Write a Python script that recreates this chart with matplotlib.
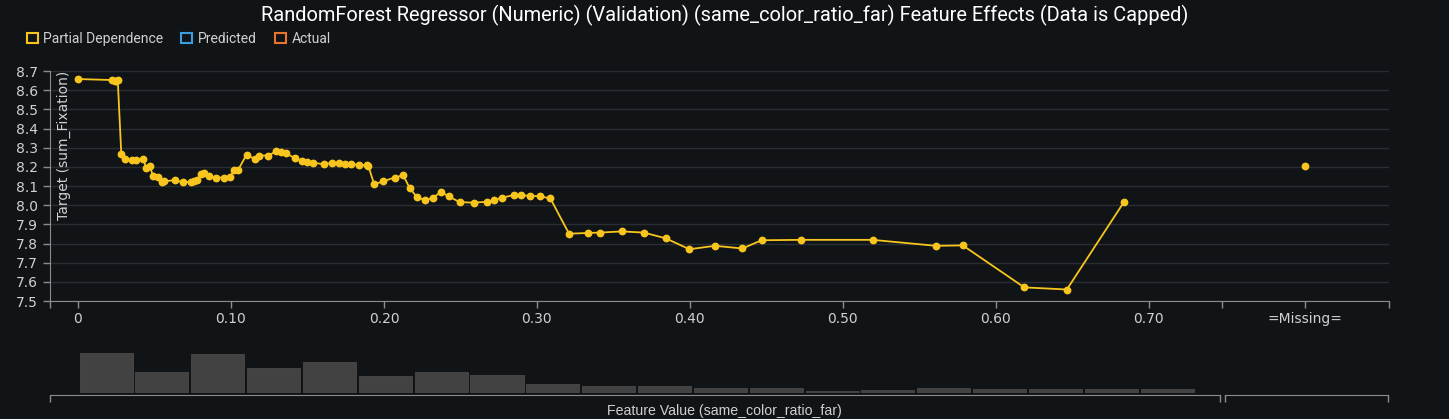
import matplotlib
matplotlib.use("Agg")
import matplotlib.pyplot as plt
from matplotlib.patches import Patch
from matplotlib import font_manager

# partial dependence curve (feature value, target)
pd_x = [0, 0.022, 0.024, 0.025, 0.026, 0.0283, 0.0306, 0.035, 0.0376, 0.0426,
        0.0446, 0.0468, 0.0493, 0.052, 0.055, 0.0563, 0.0634, 0.0684, 0.0739, 0.0759,
        0.0779, 0.0801, 0.0826, 0.0859, 0.0902, 0.0952, 0.0992, 0.1022, 0.1047, 0.1102,
        0.1154, 0.1185, 0.1245, 0.1295, 0.1327, 0.1357, 0.142, 0.1465, 0.1498, 0.1535,
        0.1608, 0.166, 0.1703, 0.1748, 0.1786, 0.1836, 0.1886, 0.1898, 0.1936, 0.1994,
        0.2069, 0.2126, 0.2169, 0.2216, 0.2266, 0.2319, 0.2372, 0.2424, 0.2494, 0.2587,
        0.2675, 0.272, 0.2772, 0.285, 0.2895, 0.2955, 0.3023, 0.3088, 0.321, 0.3331,
        0.3414, 0.3554, 0.3699, 0.3842, 0.3997, 0.4163, 0.4343, 0.4469, 0.4724, 0.5195,
        0.5606, 0.5784, 0.6186, 0.6464, 0.6837]
pd_y = [8.658, 8.653, 8.648, 8.647, 8.651, 8.267, 8.241, 8.234, 8.234, 8.243,
        8.194, 8.203, 8.150, 8.149, 8.119, 8.124, 8.131, 8.119, 8.123, 8.126,
        8.130, 8.163, 8.168, 8.150, 8.144, 8.144, 8.145, 8.185, 8.184, 8.264,
        8.241, 8.259, 8.259, 8.281, 8.280, 8.271, 8.245, 8.231, 8.227, 8.222,
        8.213, 8.222, 8.219, 8.213, 8.215, 8.210, 8.208, 8.205, 8.109, 8.124,
        8.144, 8.156, 8.088, 8.042, 8.027, 8.037, 8.069, 8.046, 8.016, 8.013,
        8.018, 8.027, 8.039, 8.053, 8.051, 8.049, 8.046, 8.035, 7.851, 7.855,
        7.857, 7.863, 7.857, 7.827, 7.770, 7.788, 7.774, 7.817, 7.819, 7.819,
        7.788, 7.790, 7.571, 7.560, 8.016]
missing_y = 8.205

# histogram of feature values
hist_counts = [119, 61, 114, 74, 92, 50, 61, 53, 23, 17,
               17, 12, 12, 2, 7, 13, 10, 8, 8, 8]
bin_start = 0.001
bin_width = 0.0365

x_ticks = [0, 0.1, 0.2, 0.3, 0.4, 0.5, 0.6, 0.7]
x_labels = ["0", "0.10", "0.20", "0.30", "0.40", "0.50", "0.60", "0.70"]
y_ticks = [7.5, 7.6, 7.7, 7.8, 7.9, 8.0, 8.1, 8.2, 8.3, 8.4, 8.5, 8.6, 8.7]

BG = "#111417"
GRID = "#2a2d31"
AXIS = "#8c8c8c"
TXT = "#d0d0d0"
YELLOW = "#f7c51e"

# x layout: numeric part, separator, missing slot
x_left, x_sep, x_missing, x_right = -0.0183, 0.7477, 0.802, 0.857

W, H = 1449, 419
fig = plt.figure(figsize=(W / 100, H / 100), dpi=100, facecolor=BG)

ax = fig.add_axes([50 / W, 1 - 301 / H, (1389 - 50) / W, (301 - 71) / H])
ax.set_facecolor(BG)
ax.plot(pd_x, pd_y, color=YELLOW, lw=1.3, marker="o", ms=4.6, zorder=3)
ax.plot([x_missing], [missing_y], color=YELLOW, marker="o", ms=4.6, ls="none", zorder=3)
ax.set_xlim(x_left, x_right)
ax.set_ylim(7.5, 8.7)
ax.set_yticks(y_ticks)
ax.set_yticklabels([f"{v:.1f}" for v in y_ticks])
ax.set_xticks([x_left] + x_ticks + [x_sep, x_missing, x_right])
ax.set_xticklabels([""] + x_labels + ["", "=Missing=", ""])
ax.grid(axis="y", color=GRID, lw=1)
ax.set_axisbelow(True)
for s in ["top", "right"]:
    ax.spines[s].set_visible(False)
for s in ["left", "bottom"]:
    ax.spines[s].set_color(AXIS)
ax.tick_params(colors=AXIS, labelcolor=TXT, labelsize=10, length=5, width=1)
ax.tick_params(axis="x", pad=3)
ax.text(0.0105, 1.0, "Target (sum_Fixation)", transform=ax.transAxes, rotation=90,
        ha="center", va="top", color=TXT, fontsize=10)

# histogram, numeric part
hx = fig.add_axes([50 / W, 1 - 395 / H, (1220 - 50) / W, 55 / H])
hx.set_facecolor(BG)
lefts = [bin_start + i * bin_width for i in range(len(hist_counts))]
hx.bar(lefts, hist_counts, width=bin_width * 0.95, align="edge",
       color="#424242", edgecolor="#4a4a4a", lw=0.6)
hx.set_xlim(x_left, 0.7464)
hx.set_ylim(-9, 158)
hx.set_xticks([x_left, 0.7464])
hx.set_xticklabels([])
hx.set_yticks([])
for s in ["top", "right", "left"]:
    hx.spines[s].set_visible(False)
hx.spines["bottom"].set_color(AXIS)
hx.tick_params(colors=AXIS, length=5, width=1)

# histogram, missing part (empty)
mx = fig.add_axes([1225 / W, 1 - 395 / H, (1388 - 1225) / W, 55 / H])
mx.set_facecolor(BG)
mx.set_xlim(0, 1)
mx.set_xticks([0, 1])
mx.set_xticklabels([])
mx.set_yticks([])
for s in ["top", "right", "left"]:
    mx.spines[s].set_visible(False)
mx.spines["bottom"].set_color(AXIS)
mx.tick_params(colors=AXIS, length=5, width=1)

fig.text(0.5, 1 - 15 / H, "RandomForest Regressor (Numeric) (Validation) (same_color_ratio_far) "
         "Feature Effects (Data is Capped)", ha="center", va="center",
         color="white", fontsize=14.4, family=["Roboto", "DejaVu Sans"])

names = [f.name for f in font_manager.fontManager.ttflist]
narrow = "Liberation Sans Narrow" if "Liberation Sans Narrow" in names else "Liberation Sans"
fig.text(0.5, 1 - 411 / H, "Feature Value (same_color_ratio_far)", ha="center",
         va="center", color=TXT, fontsize=10.2, family=[narrow, "DejaVu Sans"])

handles = [Patch(facecolor="none", edgecolor=c, lw=1.5) for c in [YELLOW, "#3b9ddd", "#e8742c"]]
fig.legend(handles, ["Partial Dependence", "Predicted", "Actual"], loc="center left",
           bbox_to_anchor=(14 / W, 1 - 39 / H), ncol=3, frameon=False,
           handlelength=0.8, handleheight=0.8, handletextpad=0.4, columnspacing=1.3,
           labelcolor=TXT, prop={"family": ["Roboto", "DejaVu Sans"], "size": 10})

fig.savefig("out.png", dpi=100, facecolor=BG)
